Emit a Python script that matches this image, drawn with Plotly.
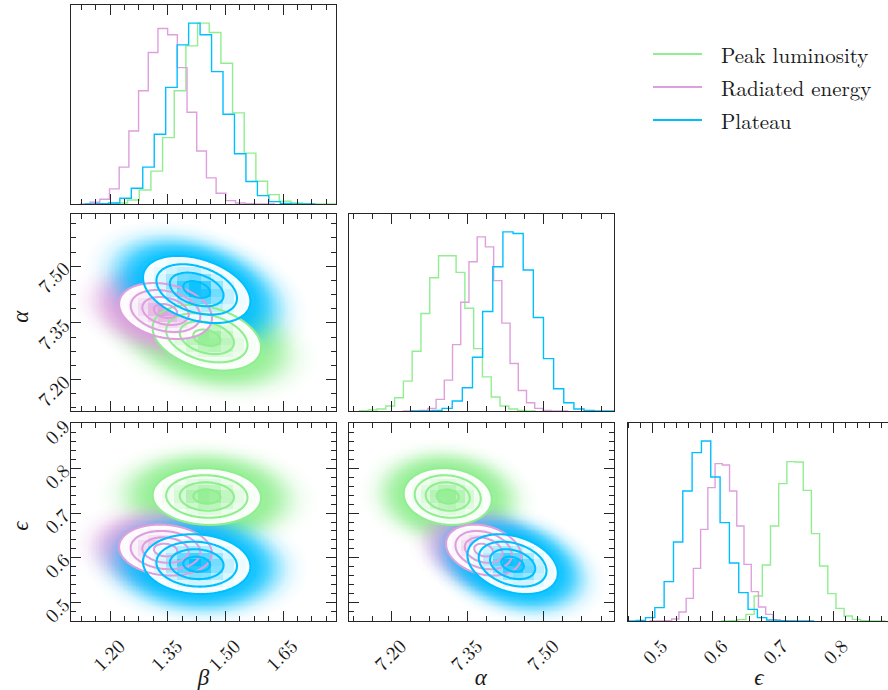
import numpy as np
import plotly.graph_objects as go

W, H = 888, 690
FONT = "Latin Modern Roman"
AXC = "#262626"
TXT = "#1a1a1a"

# ------------------------------------------------------------------
# Marginal posterior histograms (20 bins): first edge, bin width, counts
# ------------------------------------------------------------------
peak_beta_lo, peak_beta_w = 1.1846, 0.03037
peak_beta_counts = [1, 3, 12, 42, 98, 198, 338, 472, 540, 512, 420, 272, 152, 68, 28, 8, 3, 1, 0.5, 0.2]
rad_beta_lo, rad_beta_w = 1.1225, 0.02524
rad_beta_counts = [0.5, 5, 14, 45, 110, 218, 338, 452, 524, 505, 407, 274, 158, 78, 32, 10, 3, 1, 0.3, 0.1]
plat_beta_lo, plat_beta_w = 1.1356, 0.02985
plat_beta_counts = [0.3, 1, 3, 17, 47, 110, 208, 348, 475, 540, 505, 395, 268, 150, 67, 25, 7, 2, 0.5, 0.2]

peak_alpha_lo, peak_alpha_w = 7.137, 0.01729
peak_alpha_counts = [1, 3, 6, 15, 40, 90, 180, 294, 402, 468, 468, 418, 310, 188, 103, 42, 15, 6, 2, 0.5]
rad_alpha_lo, rad_alpha_w = 7.2231, 0.01618
rad_alpha_counts = [0.2, 0.5, 2, 8, 35, 93, 200, 328, 450, 525, 495, 393, 265, 143, 62, 25, 8, 2, 0.5, 0.2]
plat_alpha_lo, plat_alpha_w = 7.2397, 0.01996
plat_alpha_counts = [0.2, 0.5, 2, 8, 30, 70, 162, 300, 435, 540, 535, 425, 282, 158, 67, 25, 6, 2, 0.5, 0.2]

peak_eps_lo, peak_eps_w = 0.6141, 0.0136
peak_eps_counts = [0.3, 1, 4, 20, 75, 168, 285, 412, 478, 477, 392, 262, 165, 82, 38, 15, 5, 1, 0.3, 0.1]
rad_eps_lo, rad_eps_w = 0.4954, 0.01202
rad_eps_counts = [0.2, 0.5, 1, 6, 27, 68, 158, 275, 400, 472, 468, 390, 285, 170, 88, 42, 20, 4, 1, 0.3]
plat_eps_lo, plat_eps_w = 0.4569, 0.0155
plat_eps_counts = [0.5, 2, 10, 40, 118, 237, 390, 505, 540, 432, 295, 174, 85, 35, 10, 3, 1, 0.3, 0.2, 0.1]

# correlation coefficients of the joint posteriors
peak_corr = {("beta", "alpha"): -0.30, ("beta", "eps"): -0.05, ("alpha", "eps"): -0.10}
rad_corr = {("beta", "alpha"): -0.25, ("beta", "eps"): -0.12, ("alpha", "eps"): -0.25}
plat_corr = {("beta", "alpha"): -0.35, ("beta", "eps"): -0.08, ("alpha", "eps"): -0.30}

SERIES = ["Peak luminosity", "Radiated energy", "Plateau"]
RGB = {"Peak luminosity": (144, 238, 144),
       "Radiated energy": (221, 160, 221),
       "Plateau": (0, 191, 255)}

HIST = {
    "Peak luminosity": {"beta": (peak_beta_lo, peak_beta_w, peak_beta_counts),
                        "alpha": (peak_alpha_lo, peak_alpha_w, peak_alpha_counts),
                        "eps": (peak_eps_lo, peak_eps_w, peak_eps_counts)},
    "Radiated energy": {"beta": (rad_beta_lo, rad_beta_w, rad_beta_counts),
                        "alpha": (rad_alpha_lo, rad_alpha_w, rad_alpha_counts),
                        "eps": (rad_eps_lo, rad_eps_w, rad_eps_counts)},
    "Plateau": {"beta": (plat_beta_lo, plat_beta_w, plat_beta_counts),
                "alpha": (plat_alpha_lo, plat_alpha_w, plat_alpha_counts),
                "eps": (plat_eps_lo, plat_eps_w, plat_eps_counts)},
}
CORR = {"Peak luminosity": peak_corr, "Radiated energy": rad_corr, "Plateau": plat_corr}

PARAMS = ["beta", "alpha", "eps"]
LABELS = {"beta": "β", "alpha": "α", "eps": "ϵ"}
AX_RANGE = {"beta": [1.098, 1.788], "alpha": [7.117, 7.638], "eps": [0.458, 0.902]}
EPS_X_RANGE = [0.458, 0.891]
TICKS = {"beta": (1.20, 0.15, 4, ".2f"), "alpha": (7.20, 0.15, 4, ".2f"), "eps": (0.5, 0.1, 5, ".1f")}

R_LINES = (0.5, 1.0, 1.5, 2.0)   # contour radii in units of sigma
R_FILL = 2.0                     # white-filled region radius
R_CLOUD = 4.2                    # extent of the sample cloud
CLOUD_ALPHA = [(0.0, 0.9), (2.2, 0.9), (2.6, 0.7), (3.0, 0.4), (3.4, 0.15), (3.8, 0.04), (4.2, 0.0)]

# panel pixel boxes
COLS = [(71, 336), (349.3, 614), (627.5, 888)]
ROWS = [(5, 204), (214, 411), (423, 621)]
PANELS = [(0, 0), (1, 0), (1, 1), (2, 0), (2, 1), (2, 2)]
AXID = {rc: i + 1 for i, rc in enumerate(PANELS)}


def refs(rc):
    n = AXID[rc]
    return ("x" if n == 1 else f"x{n}"), ("y" if n == 1 else f"y{n}")


def centers(h):
    lo, w, c = h
    return lo + w * (np.arange(len(c)) + 0.5)


def moments(h):
    c = np.asarray(h[2], float)
    ctr = centers(h)
    m = (c * ctr).sum() / c.sum()
    s = np.sqrt((c * (ctr - m) ** 2).sum() / c.sum())
    return m, s


def maha(X, Y, mx, sx, my, sy, rho):
    u = (X - mx) / sx
    v = (Y - my) / sy
    return np.sqrt((u * u - 2 * rho * u * v + v * v) / (1 - rho * rho))


def rgba(rgb, a):
    return f"rgba({rgb[0]},{rgb[1]},{rgb[2]},{a})"


traces = []

# ---------------- 1D histograms on the diagonal ----------------
for k, p in enumerate(PARAMS):
    xr, yr = refs((k, k))
    for s in SERIES:
        lo, w, c = HIST[s][p]
        e = lo + w * np.arange(len(c) + 1)
        xs = [e[0]] + list(e[:-1]) + [e[-1], e[-1]]
        ys = [0] + list(c) + [c[-1], 0]
        traces.append(go.Scatter(x=xs, y=ys, mode="lines", line=dict(color=rgba(RGB[s], 1), width=1.4, shape="hv"),
                                 xaxis=xr, yaxis=yr, showlegend=False, hoverinfo="skip"))

# ---------------- 2D joint panels ----------------
for (r, c) in [(1, 0), (2, 0), (2, 1)]:
    px, py = PARAMS[c], PARAMS[r]
    xr, yr = refs((r, c))
    gx = np.linspace(*AX_RANGE[px], 200)
    gy = np.linspace(*AX_RANGE[py], 160)
    GX, GY = np.meshgrid(gx, gy)
    fx = np.linspace(*AX_RANGE[px], 270)
    fy = np.linspace(*AX_RANGE[py], 205)
    FX, FY = np.meshgrid(fx, fy)

    stats = {}
    for s in SERIES:
        mx, sx = moments(HIST[s][px])
        my, sy = moments(HIST[s][py])
        stats[s] = (mx, sx, my, sy, CORR[s][(px, py)])

    # sample clouds
    for s in SERIES:
        R = maha(GX, GY, *stats[s])
        cs = [[rr / R_CLOUD, rgba(RGB[s], a)] for rr, a in CLOUD_ALPHA]
        traces.append(go.Heatmap(x=gx, y=gy, z=np.clip(R, 0, R_CLOUD), zmin=0, zmax=R_CLOUD, colorscale=cs,
                                 zsmooth="best", showscale=False, hoverinfo="skip", xaxis=xr, yaxis=yr))

    # white fill with binned density shading
    for s in SERIES:
        R = maha(FX, FY, *stats[s])
        lox, wx, cx = HIST[s][px]
        loy, wy, cy = HIST[s][py]
        ix = np.clip(np.floor((FX - lox) / wx), 0, len(cx) - 1)
        iy = np.clip(np.floor((FY - loy) / wy), 0, len(cy) - 1)
        bx = lox + (ix + 0.5) * wx
        by = loy + (iy + 0.5) * wy
        f = np.exp(-0.5 * maha(bx, by, *stats[s]) ** 2)
        z = np.where(R <= R_FILL, f ** 2, np.nan)
        zl = [[None if np.isnan(v) else float(v) for v in row] for row in z]
        cs = [[0, "rgb(255,255,255)"], [1, rgba(RGB[s], 1)]]
        traces.append(go.Heatmap(x=fx, y=fy, z=zl, zmin=0, zmax=1, colorscale=cs, zsmooth=False,
                                 showscale=False, hoverinfo="skip", xaxis=xr, yaxis=yr))

    # contour lines
    for s in SERIES:
        R = maha(GX, GY, *stats[s])
        traces.append(go.Contour(x=gx, y=gy, z=R, autocontour=False,
                                 contours=dict(start=R_LINES[0], end=R_LINES[-1], size=R_LINES[1] - R_LINES[0],
                                               coloring="none"),
                                 line=dict(color=rgba(RGB[s], 1), width=2.1), showscale=False, hoverinfo="skip",
                                 xaxis=xr, yaxis=yr))

fig = go.Figure(data=traces)

layout = dict(width=W, height=H, margin=dict(l=0, r=0, t=0, b=0, pad=0, autoexpand=False),
              paper_bgcolor="white", plot_bgcolor="white", showlegend=False)

for (r, c) in PANELS:
    n = AXID[(r, c)]
    xk = "xaxis" if n == 1 else f"xaxis{n}"
    yk = "yaxis" if n == 1 else f"yaxis{n}"
    px = PARAMS[c]
    t0, dt, nminor, fmt = TICKS[px]
    x0, x1 = COLS[c]
    y0, y1 = ROWS[r]
    common = dict(showline=True, linecolor=AXC, linewidth=1.2, showgrid=False, zeroline=False, automargin=False,
                  tickfont=dict(family=FONT, size=19.5, color=TXT), tickangle=-45)
    xa = dict(common, domain=[x0 / W, x1 / W], anchor=f"y{n}" if n > 1 else "y",
              range=EPS_X_RANGE if (r, c) == (2, 2) else AX_RANGE[px],
              ticks="inside", ticklen=10, tickwidth=1.1, tickcolor=AXC, mirror="ticks",
              tickmode="linear", tick0=t0, dtick=dt, tickformat=fmt,
              minor=dict(ticks="inside", ticklen=5, tickwidth=1.0, tickcolor=AXC, tick0=t0, dtick=dt / nminor),
              showticklabels=(r == 2), ticklabelshift=9, ticklabelstandoff=5)
    ya = dict(common, domain=[1 - y1 / H, 1 - y0 / H], anchor=f"x{n}" if n > 1 else "x")
    if r == c:
        ymax = max(max(HIST[s][px][2]) for s in SERIES)
        ya.update(range=[0, 1.1 * ymax], ticks="", showticklabels=False, mirror=((r, c) != (2, 2)))
    else:
        py = PARAMS[r]
        t0y, dty, nmy, fmty = TICKS[py]
        ya.update(range=AX_RANGE[py], ticks="inside", ticklen=10, tickwidth=1.1, tickcolor=AXC, mirror="ticks",
                  tickmode="linear", tick0=t0y, dtick=dty, tickformat=fmty,
                  minor=dict(ticks="inside", ticklen=5, tickwidth=1.0, tickcolor=AXC, tick0=t0y, dtick=dty / nmy),
                  showticklabels=(c == 0), ticklabelstandoff=2)
    layout[xk] = xa
    layout[yk] = ya

# axis titles
ann = []
for c, p in enumerate(PARAMS):
    xc = (COLS[c][0] + (COLS[c][0] + 265)) / 2 + 3
    ann.append(dict(x=xc / W, y=1 - 675 / H, xref="paper", yref="paper", text=f"<i>{LABELS[p]} </i>",
                    showarrow=False, font=dict(family=FONT, size=23, color=TXT), width=44, height=30,
                    align="center", xanchor="center", yanchor="middle"))
for r, p in [(1, "alpha"), (2, "eps")]:
    yc = (ROWS[r][0] + ROWS[r][1]) / 2
    ann.append(dict(x=18 / W, y=1 - yc / H, xref="paper", yref="paper", text=f"<i>{LABELS[p]} </i>",
                    showarrow=False, textangle=-90, font=dict(family=FONT, size=23, color=TXT), width=44, height=30,
                    align="center", xanchor="center", yanchor="middle"))

# legend
shapes = []
for i, s in enumerate(SERIES):
    yy = 1 - (54 + 33 * i) / H
    shapes.append(dict(type="line", xref="paper", yref="paper", x0=653 / W, x1=702 / W, y0=yy, y1=yy,
                       line=dict(color=rgba(RGB[s], 1), width=2.2)))
    ann.append(dict(x=719 / W, y=yy, xref="paper", yref="paper", text=s, showarrow=False,
                    font=dict(family=FONT, size=21, color=TXT), xanchor="left", yanchor="middle"))

layout["annotations"] = ann
layout["shapes"] = shapes
fig.update_layout(**layout)
fig.write_html("out.html")
